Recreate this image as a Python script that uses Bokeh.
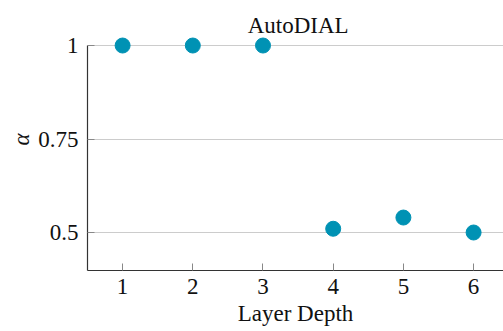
from bokeh.plotting import figure
from bokeh.models import Range1d, FixedTicker, Label
from bokeh.embed import file_html
from bokeh.resources import INLINE

layers = [1, 2, 3, 4, 5, 6]
alpha_vals = [1.0, 1.0, 1.0, 0.51, 0.54, 0.50]
y_ticks = [0.5, 0.75, 1.0]
y_tick_labels = {0.5: "0.5", 0.75: "0.75", 1.0: "1"}
title_text = "AutoDIAL"

FONT = "Liberation Serif"
FS = "23px"
Y_MIN, Y_MAX = 0.3984, 1.0

p = figure(width=503, height=331, output_backend="svg", toolbar_location=None,
           x_range=Range1d(0.5, 6.426), y_range=Range1d(Y_MIN, 1.099),
           min_border_left=87, min_border_right=0, min_border_top=8,
           min_border_bottom=61)
p.outline_line_color = None
p.background_fill_color = "white"

p.xgrid.grid_line_color = None
p.ygrid.grid_line_color = "#cccccc"
p.ygrid.grid_line_width = 1

p.xaxis.ticker = FixedTicker(ticks=layers)
p.yaxis.ticker = FixedTicker(ticks=y_ticks)
p.yaxis.major_label_overrides = y_tick_labels
p.yaxis.bounds = (Y_MIN, Y_MAX)

for ax in (p.xaxis[0], p.yaxis[0]):
    ax.axis_line_color = "#333333"
    ax.axis_line_width = 1.2
    ax.major_tick_in = 7
    ax.major_tick_out = 0
    ax.major_tick_line_color = "#888888"
    ax.minor_tick_line_color = None
    ax.major_label_text_font = FONT
    ax.major_label_text_font_size = FS
    ax.major_label_text_color = "#111111"
    ax.axis_label_text_font = FONT
    ax.axis_label_text_font_size = FS
    ax.axis_label_text_font_style = "normal"
    ax.axis_label_text_color = "#111111"

p.xaxis.axis_label = "Layer Depth"
p.xaxis.major_label_standoff = 8
p.xaxis.axis_label_standoff = 4
p.yaxis.axis_label = "α"
p.yaxis.axis_label_text_font_style = "italic"
p.yaxis.major_label_standoff = 9
p.yaxis.axis_label_standoff = 1

p.scatter(layers, alpha_vals, size=15, marker="circle",
          fill_color="#0092b4", line_color="#0092b4")

p.add_layout(Label(x=3.5, y=1.0535, text=title_text, text_align="center",
                   text_baseline="alphabetic", text_font=FONT,
                   text_font_size=FS, text_color="#111111"))

open("out.html", "w").write(file_html(p, INLINE))
